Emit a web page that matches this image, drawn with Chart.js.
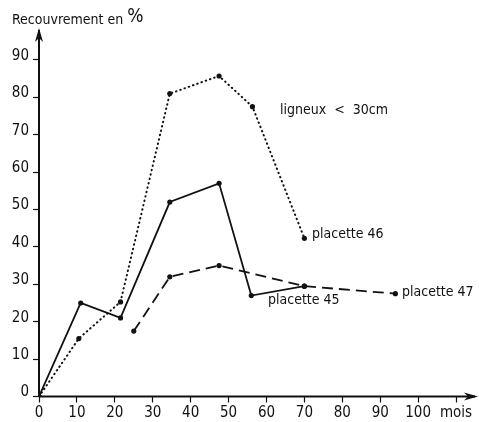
<!DOCTYPE html>
<html>
<head>
<meta charset="utf-8">
<script src="https://cdn.jsdelivr.net/npm/chart.js@4/dist/chart.umd.min.js"></script>
<style>
  html, body { margin: 0; padding: 0; background: #fff; }
  #wrap { width: 479px; height: 422px; }
</style>
</head>
<body>
<div id="wrap"><canvas id="chart"></canvas></div>
<script>
// values (months, % cover)
const months45 = [0, 11, 21.5, 34.5, 47.5, 56, 70];
const cover45 = [0, 25, 21, 52, 57, 27, 29.5];
const months46 = [0, 10.5, 21.5, 34.5, 47.5, 56.3, 70];
const cover46 = [0, 15.5, 25.3, 81, 85.7, 77.5, 42.3];
const months47 = [25, 34.5, 47.5, 70, 94];
const cover47 = [17.5, 32, 35, 29.5, 27.5];
const xTicks = [0, 10, 20, 30, 40, 50, 60, 70, 80, 90, 100, 110];
const xTickLabels = ['0', '10', '20', '30', '40', '50', '60', '70', '80', '90', '100', 'mois'];
const yTicks = [0, 10, 20, 30, 40, 50, 60, 70, 80, 90];

const FONT = "'Liberation Sans Narrow', 'DejaVu Sans Condensed', 'Roboto', sans-serif";
const INK = '#111';

const toPoints = (xs, ys) => xs.map((x, i) => ({ x: x, y: ys[i] }));

// axis arrows + text labels
const decorations = {
  id: 'decorations',
  afterDraw(chart) {
    const ctx = chart.ctx;
    const xs = chart.scales.x, ys = chart.scales.y;
    const x0 = xs.getPixelForValue(0), y0 = ys.getPixelForValue(0);
    const top = ys.top, right = xs.right;
    ctx.save();
    ctx.strokeStyle = INK;
    ctx.fillStyle = INK;
    ctx.lineWidth = 2;
    ctx.beginPath();
    ctx.moveTo(x0, y0); ctx.lineTo(x0, top);
    ctx.moveTo(x0, y0); ctx.lineTo(right, y0);
    ctx.stroke();
    // arrow heads
    ctx.beginPath();
    ctx.moveTo(x0, top - 2); ctx.lineTo(x0 - 4, top + 12); ctx.lineTo(x0, top + 8); ctx.lineTo(x0 + 4, top + 12);
    ctx.closePath(); ctx.fill();
    ctx.beginPath();
    ctx.moveTo(right + 3, y0); ctx.lineTo(right - 11, y0 - 4); ctx.lineTo(right - 7, y0); ctx.lineTo(right - 11, y0 + 4);
    ctx.closePath(); ctx.fill();

    ctx.textBaseline = 'middle';
    ctx.textAlign = 'left';
    ctx.font = '14px ' + FONT;
    const t = 'Recouvrement en';
    ctx.fillText(t, 12, 20);
    const w = ctx.measureText(t).width;
    ctx.font = '19px ' + FONT;
    ctx.fillText('%', 12 + w + 4, 17);
    ctx.font = '14px ' + FONT;
    ctx.fillText('ligneux  <  30cm', 280, 110);
    ctx.fillText('placette 46', 312, 234);
    ctx.fillText('placette 45', 268, 300);
    ctx.fillText('placette 47', 402, 292);
    ctx.restore();
  }
};

const lineSet = (label, data, dash) => ({
  label: label,
  data: data,
  showLine: true,
  borderColor: INK,
  backgroundColor: INK,
  borderWidth: dash && dash[0] < 3 ? 2 : 1.8,
  borderDash: dash || [],
  borderCapStyle: dash && dash[0] < 3 ? 'round' : 'butt',
  pointRadius: 2.6,
  pointHoverRadius: 2.6,
  pointBorderWidth: 0,
  tension: 0
});

new Chart(document.getElementById('chart'), {
  type: 'scatter',
  data: {
    datasets: [
      lineSet('placette 45', toPoints(months45, cover45)),
      lineSet('placette 46', toPoints(months46, cover46), [0.5, 4]),
      lineSet('placette 47', toPoints(months47, cover47), [11, 6])
    ]
  },
  options: {
    responsive: true,
    maintainAspectRatio: false,
    animation: false,
    events: [],
    layout: { padding: { top: 30, right: 4, left: 0, bottom: 0 } },
    plugins: { legend: { display: false }, tooltip: { enabled: false } },
    scales: {
      x: {
        type: 'linear', min: 0, max: 115,
        afterFit: s => { s.height = 25.5; },
        afterBuildTicks: s => { s.ticks = xTicks.map(v => ({ value: v })); },
        border: { display: false },
        grid: { drawOnChartArea: false, tickLength: 6, color: INK, tickWidth: 1.2 },
        ticks: {
          color: INK, padding: 2, maxRotation: 0, autoSkip: false,
          font: { family: FONT, size: 15 },
          callback: v => xTickLabels[xTicks.indexOf(v)]
        }
      },
      y: {
        type: 'linear', min: 0, max: 98,
        afterFit: s => { s.width = 39; },
        afterBuildTicks: s => { s.ticks = yTicks.map(v => ({ value: v })); },
        border: { display: false },
        grid: { drawOnChartArea: false, tickLength: 6, color: INK, tickWidth: 1.2 },
        ticks: {
          color: INK, padding: 4, labelOffset: -4,
          font: { family: FONT, size: 15 },
          callback: v => String(v)
        }
      }
    }
  },
  plugins: [decorations]
});
</script>
</body>
</html>
